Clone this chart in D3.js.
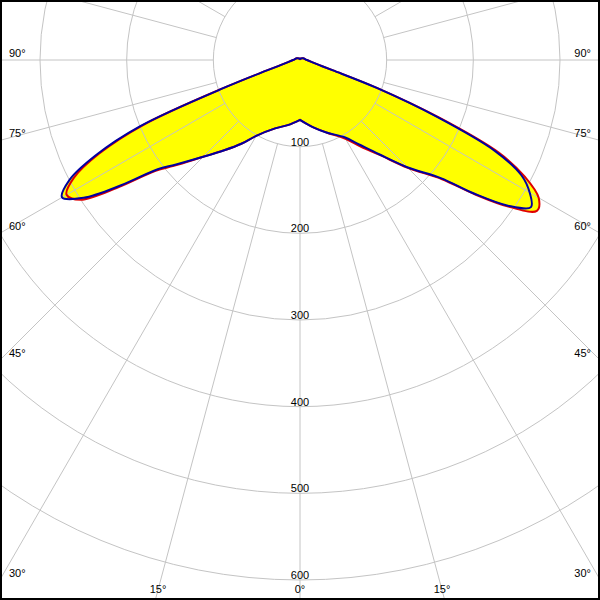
<!DOCTYPE html>
<html>
<head>
<meta charset="utf-8">
<script src="https://cdn.jsdelivr.net/npm/d3@7"></script>
<style>
  html, body { margin: 0; padding: 0; background: #fff; }
  svg { display: block; }
  text { font-family: "Liberation Sans", Arial, sans-serif; font-size: 11px; fill: #000; }
</style>
</head>
<body>
<script>
// Gamma angles (degrees from nadir) and luminous intensity values (cd)
const gammas      = [0, 10, 20, 30, 35, 40, 45, 50, 52.5, 55, 57.5, 60, 62.5, 65, 67.5, 70, 72.5, 75, 80, 90, 120, 150, 180];
const leftBlue    = [69, 76, 84, 101, 118, 136, 158, 188, 207, 252, 296, 317, 300, 260, 200, 90, 40, 24, 14, 8, 4, 2, 1];
const leftRed     = [69, 76, 84, 101, 118, 136, 158, 190, 210, 256, 300, 311, 294, 256, 196, 90, 40, 24, 14, 8, 4, 2, 1];
const rightBlue   = [69, 78, 89, 103, 119, 142, 175, 212, 253, 293, 316, 306, 288, 248, 170, 95, 40, 24, 14, 8, 4, 2, 1];
const rightRed    = [69, 78, 89, 105, 122, 143, 176, 214, 255, 296, 324, 318, 293, 253, 174, 95, 40, 24, 14, 8, 4, 2, 1];
const ringValues  = [100, 200, 300, 400, 500, 600];
const angleLabels = [0, 15, 30, 45, 60, 75, 90];

const W = 600, H = 600, cx = 300, cy = 60;
const r = d3.scaleLinear().domain([0, 600]).range([0, 520]);
const rad = d => d * Math.PI / 180;

const svg = d3.select("body").append("svg").attr("width", W).attr("height", H);
svg.append("rect").attr("width", W).attr("height", H).attr("fill", "#fff");

const g = svg.append("g").attr("transform", `translate(${cx},${cy})`);

// build closed polygon: right half gamma 0->180, then left half 180->0
function shape(leftVals, rightVals) {
  const pts = [];
  gammas.forEach((gm, i) => pts.push({a: Math.PI - rad(gm), v: rightVals[i]}));
  for (let i = gammas.length - 1; i >= 0; i--) pts.push({a: Math.PI + rad(gammas[i]), v: leftVals[i]});
  return pts;
}
const line = d3.lineRadial().angle(d => d.a).radius(d => r(d.v)).curve(d3.curveCatmullRomClosed.alpha(0.5));

const redPts = shape(leftRed, rightRed);
const bluePts = shape(leftBlue, rightBlue);

// yellow fill (union of both planes)
g.append("path").attr("d", line(redPts)).attr("fill", "#ffff00").attr("stroke", "none");
g.append("path").attr("d", line(bluePts)).attr("fill", "#ffff00").attr("stroke", "none");

// grid circles
const gridColor = "#c4c4c4";
g.selectAll("circle.ring").data(ringValues).enter().append("circle")
  .attr("r", d => r(d)).attr("fill", "none").attr("stroke", gridColor).attr("stroke-width", 1);

// spokes every 15 degrees starting at the 100 ring
const spokes = d3.range(0, 360, 15);
g.selectAll("line.spoke").data(spokes).enter().append("line")
  .attr("x1", d => r(100) * Math.sin(rad(d)))
  .attr("y1", d => r(100) * Math.cos(rad(d)))
  .attr("x2", d => r(1000) * Math.sin(rad(d)))
  .attr("y2", d => r(1000) * Math.cos(rad(d)))
  .attr("stroke", gridColor).attr("stroke-width", 1);

// curves
g.append("path").attr("d", line(redPts)).attr("fill", "none").attr("stroke", "#e00000").attr("stroke-width", 2).attr("stroke-linejoin", "round");
g.append("path").attr("d", line(bluePts)).attr("fill", "none").attr("stroke", "#0000a0").attr("stroke-width", 2).attr("stroke-linejoin", "round");

// ring labels
g.selectAll("text.ring").data(ringValues).enter().append("text")
  .attr("x", 0).attr("y", d => r(d) - 1).attr("text-anchor", "middle").text(d => d);

// angle labels
angleLabels.forEach(a => {
  [-1, 1].forEach(side => {
    if (a === 0 && side === 1) return;
    const s = Math.sin(rad(a)), c = Math.cos(rad(a));
    const tSide = s > 1e-9 ? cx / s : Infinity;
    const tBottom = (H - cy - 10) / c;
    let x, y, anchor;
    if (tSide < tBottom) {
      const ey = cy + tSide * c;
      x = side < 0 ? 9 : W - 9;
      y = ey - 3;
      anchor = side < 0 ? "start" : "end";
    } else {
      x = cx + side * tBottom * s;
      y = 593;
      anchor = "middle";
    }
    svg.append("text").attr("x", x).attr("y", y).attr("text-anchor", anchor).text(a + "°");
  });
});

// border
svg.append("rect").attr("x", 1).attr("y", 1).attr("width", W - 2).attr("height", H - 2)
  .attr("fill", "none").attr("stroke", "#000").attr("stroke-width", 2);
</script>
</body>
</html>
